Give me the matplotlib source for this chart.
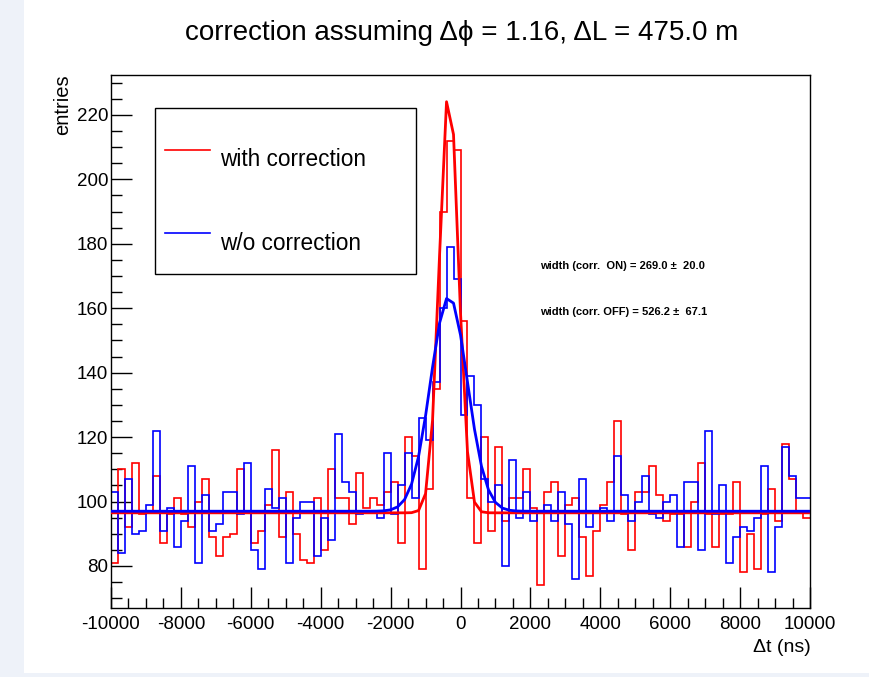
import numpy as np
import matplotlib
matplotlib.use("Agg")
import matplotlib.pyplot as plt
from matplotlib.patches import Rectangle
from matplotlib.ticker import MultipleLocator

plt.rcParams['font.family'] = ['Liberation Sans', 'DejaVu Sans']

# ---------------- data ----------------
x_min, x_max, n_bins = -10000, 10000, 100

counts_corr_on = [
    81, 110, 92, 112, 96, 97, 108, 87, 96, 101,
    96, 92, 100, 107, 89, 83, 89, 90, 110, 97,
    87, 91, 99, 116, 89, 103, 90, 82, 81, 101,
    85, 110, 101, 101, 93, 109, 98, 101, 99, 103,
    106, 87, 120, 114, 79, 104, 135, 190, 212, 209,
    156, 101, 87, 120, 91, 117, 94, 101, 101, 110,
    98, 74, 103, 106, 83, 99, 101, 89, 77, 91,
    99, 106, 125, 96, 85, 103, 103, 111, 102, 94,
    96, 96, 86, 100, 112, 96, 86, 96, 96, 106,
    78, 90, 79, 96, 104, 94, 118, 107, 97, 95,
]
counts_corr_off = [
    103, 84, 107, 90, 91, 99, 122, 91, 98, 86,
    94, 111, 81, 102, 91, 93, 103, 103, 96, 112,
    85, 79, 104, 98, 101, 81, 95, 100, 100, 83,
    95, 88, 121, 106, 103, 96, 97, 97, 95, 115,
    96, 105, 115, 101, 126, 119, 137, 160, 179, 169,
    127, 139, 130, 107, 100, 105, 80, 113, 95, 103,
    94, 97, 99, 94, 103, 93, 76, 107, 92, 97,
    98, 94, 114, 102, 94, 100, 108, 96, 95, 100,
    102, 86, 106, 106, 85, 122, 96, 105, 81, 89,
    92, 91, 95, 111, 78, 92, 117, 108, 101, 101,
]

# fit parameters (constant + gaussian)
fit_on = dict(const=96.5, amp=132.0, mean=-330.0, sigma=269.0)
fit_off = dict(const=97.0, amp=66.6, mean=-330.0, sigma=526.2)
fit_npx = 100

width_on, width_on_err = 269.0, 20.0
width_off, width_off_err = 526.2, 67.1

title_text = "correction assuming \u0394\u03d5 = 1.16, \u0394L = 475.0 m"
legend_labels = ["with correction", "w/o correction"]

# ---------------- figure ----------------
W, H = 870, 677
fig = plt.figure(figsize=(W / 100, H / 100), dpi=100)
fig.patch.set_facecolor("#eef2f9")
fig.add_artist(Rectangle((24 / W, 1 - 673 / H), 1 - 24 / W, 673 / H,
                         transform=fig.transFigure, facecolor="white",
                         edgecolor="none", zorder=0))

L, R, T, B = 111, 810, 75, 608
ax = fig.add_axes([L / W, 1 - B / H, (R - L) / W, (B - T) / H])
ax.set_facecolor("white")

edges = np.linspace(x_min, x_max, n_bins + 1)
ax.stairs(counts_corr_on, edges, color="#ff0000", linewidth=1.2, baseline=None, zorder=2)
ax.stairs(counts_corr_off, edges, color="#0000ff", linewidth=1.2, baseline=None, zorder=2)

xf = np.linspace(x_min, x_max, fit_npx + 1)
def gfit(x, p):
    return p["const"] + p["amp"] * np.exp(-0.5 * ((x - p["mean"]) / p["sigma"]) ** 2)

ax.plot(xf, gfit(xf, fit_on), color="#ff0000", linewidth=2.0, zorder=3)
ax.plot(xf, gfit(xf, fit_off), color="#0000ff", linewidth=2.0, zorder=4)

ax.set_xlim(x_min, x_max)
ax.set_ylim(66.96, 232.4)

ax.xaxis.set_major_locator(MultipleLocator(2000))
ax.xaxis.set_minor_locator(MultipleLocator(500))
ax.yaxis.set_major_locator(MultipleLocator(20))
ax.yaxis.set_minor_locator(MultipleLocator(5))
ax.tick_params(axis="both", which="both", direction="in", top=False, right=False,
               labelsize=13.5, colors="black", width=1.0)
ax.tick_params(axis="y", which="major", length=15, pad=2)
ax.tick_params(axis="y", which="minor", length=8)
ax.tick_params(axis="x", which="major", length=15, pad=6)
ax.tick_params(axis="x", which="minor", length=7)
for s in ax.spines.values():
    s.set_linewidth(1.0)
    s.set_color("black")

ax.set_xticks(np.arange(-10000, 10001, 2000))
ax.set_xticklabels([str(v) for v in range(-10000, 10001, 2000)])

# axis titles (ROOT style: at the end of axes)
fig.text(811 / W, 1 - 647 / H, "\u0394t (ns)", ha="right", va="center", fontsize=14)
fig.text(63 / W, 1 - 74 / H, "entries", ha="center", va="top", rotation=90, fontsize=14.5)

# title
fig.text(462 / W, 1 - 33 / H, title_text, ha="center", va="center", fontsize=20)

# legend box
fig.add_artist(Rectangle((155 / W, 1 - 274 / H), (416 - 155) / W, (274 - 108) / H,
                         transform=fig.transFigure, facecolor="white",
                         edgecolor="black", linewidth=1.0, zorder=5))
ax_leg = fig.add_axes([155 / W, 1 - 274 / H, (416 - 155) / W, (274 - 108) / H])
ax_leg.set_axis_off()
ax_leg.set_zorder(6)
ax_leg.set_xlim(155, 416)
ax_leg.set_ylim(274, 108)
for (label, col, yl, yt) in [(legend_labels[0], "#ff0000", 150, 160),
                              (legend_labels[1], "#0000ff", 233, 243)]:
    ax_leg.plot([165, 210], [yl, yl], color=col, linewidth=1.2)
    ax_leg.text(220, yt, label, ha="left", va="center", fontsize=16.3)

fig.text(540 / W, 1 - 266 / H,
         f"width (corr.  ON) = {width_on:.1f} \u00b1  {width_on_err:.1f}",
         ha="left", va="center", fontsize=8, fontweight="bold")
fig.text(540 / W, 1 - 312 / H,
         f"width (corr. OFF) = {width_off:.1f} \u00b1  {width_off_err:.1f}",
         ha="left", va="center", fontsize=8, fontweight="bold")

fig.savefig("out.png", dpi=100, facecolor=fig.get_facecolor())
